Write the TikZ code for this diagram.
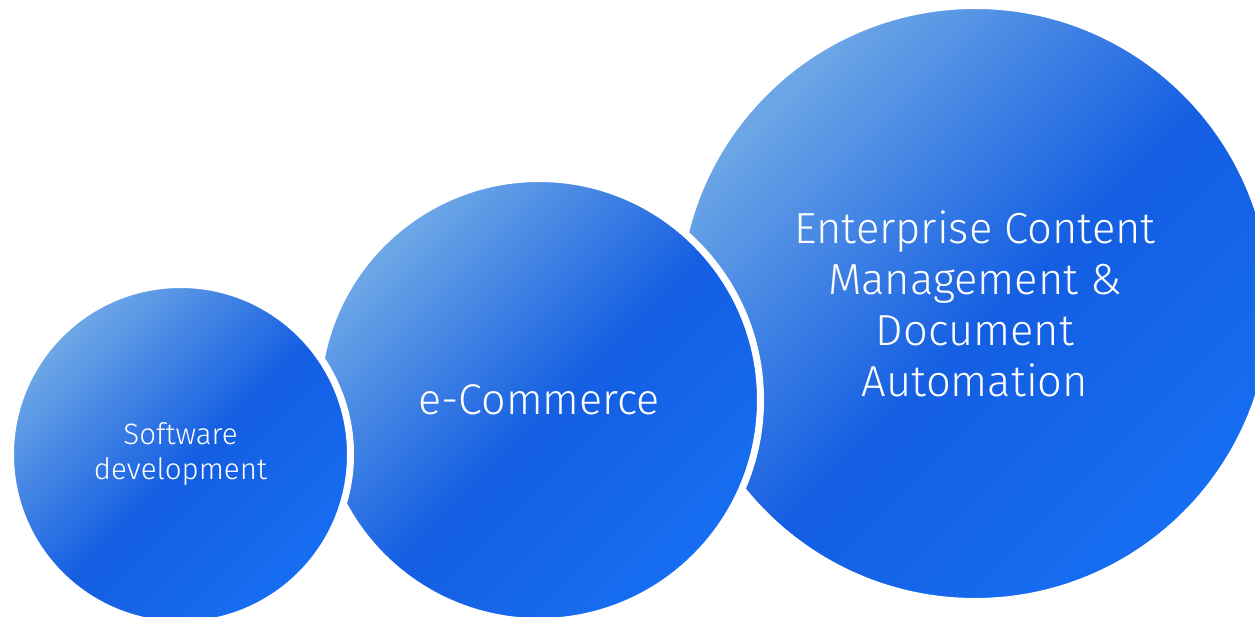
\documentclass[tikz,border=0pt]{standalone}
\usepackage{fontspec}
\setmainfont{Fira Sans Light}

\definecolor{bubblelight}{RGB}{108,166,230}
\definecolor{bubbledark}{RGB}{20,94,226}
\definecolor{bubbleend}{RGB}{22,110,242}
\pgfdeclarehorizontalshading{bubbleshade}{100bp}{color(0bp)=(bubblelight); color(26bp)=(bubblelight); color(52bp)=(bubbledark); color(75bp)=(bubbleend); color(100bp)=(bubbleend)}

\begin{document}
\begin{tikzpicture}[x=1pt, y=-1pt,
        bubble/.style={circle, draw=white, line width=7pt, shading=bubbleshade, shading angle=-45,
            text=white, align=center, inner sep=0pt}]
        \useasboundingbox (0,0) rectangle (1255,617);
        \clip (0,0) rectangle (1255,617);
        % biggest first, the smaller ones lie on top
        \node[bubble, minimum size=596pt, font=\fontsize{43.5}{51}\selectfont] (ecm) at (975,303.5) {Enterprise Content\\Management \&\\Document\\Automation};
        \node[bubble, minimum size=443pt, font=\fontsize{43}{48}\selectfont] (ecom) at (539,400) {e-Commerce};
        \node[bubble, minimum size=340pt, font=\fontsize{29.5}{35}\selectfont] (soft) at (180.5,454.5) {Software\\development};
    \end{tikzpicture}
\end{document}
